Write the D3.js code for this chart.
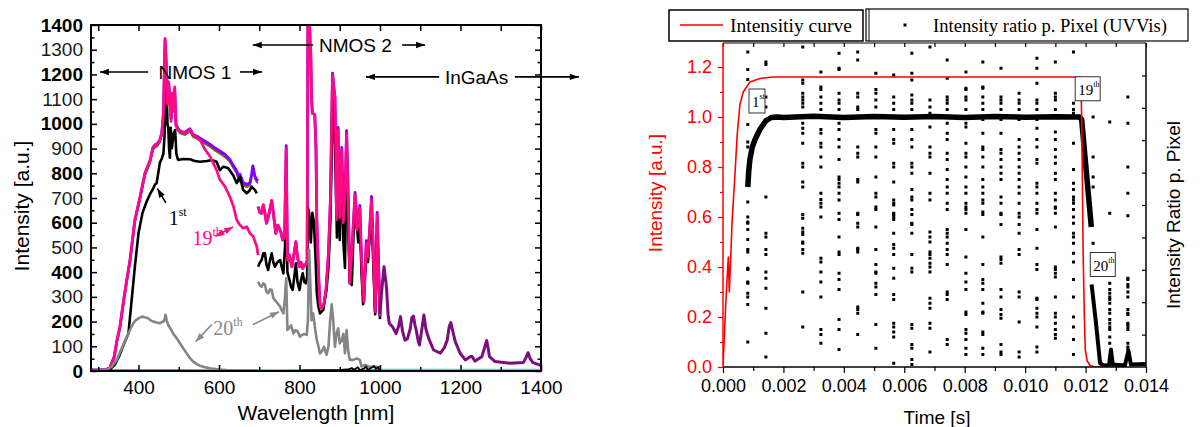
<!DOCTYPE html>
<html>
<head>
<meta charset="utf-8">
<script src="https://cdn.jsdelivr.net/npm/d3@7"></script>
<style>
  body { margin: 0; background: #fff; }
  svg { display: block; }
</style>
</head>
<body>
<svg id="chart" width="1200" height="427"></svg>
<script>
// ---------- left panel: spectra (wavelength nm, intensity a.u.) ----------
const wlMajorTicks = [400, 600, 800, 1000, 1200, 1400];
const wlMinorTicks = [300, 500, 700, 900, 1100, 1300];
const intensityTicks = d3.range(0, 1401, 100);

// envelope of most spectra, NMOS 1 detector
const upperNmos1 = [[282,4],[300,4],[320,6],[329,14],[340,60],[346,120],[354,180],[362,274],[370,360],[379,449],[391,611],[404,705],[416,800],[429,854],[436,905],[441,915],[447,920],[453,935],[458,965],[462,1044],[466,1340],[469,1240],[472,1090],[475,1165],[478,1100],[481,1020],[484,1120],[487,1060],[490,1140],[493,1000],[497,985],[503,972],[515,965],[528,980],[535,958],[545,950],[553,942],[565,930],[578,917],[590,902],[602,890],[615,876],[627,856],[636,830],[644,810],[650,776],[652,796],[660,762],[669,755],[677,762],[681,795],[684,830],[689,790],[693,776],[697,770]];
// envelope, NMOS 2 detector
const upperNmos2 = [[697,665],[702,640],[706,638],[710,672],[714,640],[718,598],[722,620],[727,658],[731,690],[735,640],[741,557],[746,590],[750,577],[754,560],[758,530],[763,545],[767,912],[770,449],[775,470],[781,422],[786,470],[791,523],[795,460],[800,422],[804,440],[808,415],[812,430],[816,429],[819,445],[821,1480],[824,1480],[826,1340],[828,1286],[830,1100],[832,1043],[835,1040],[838,1036],[841,900],[843,611],[847,400],[851,260],[856,255],[861,274],[866,330],[872,476],[877,700],[882,1205],[885,1150],[888,1110],[890,900],[892,611],[896,985],[900,620],[905,905],[909,600],[913,700],[917,972],[921,700],[925,355],[929,450],[934,600],[938,722],[941,650],[943,571],[946,600],[950,670],[953,500],[957,330],[960,280],[963,400],[966,527],[970,463],[974,560],[979,706],[983,500],[988,240],[990,350],[993,642],[996,450],[1000,220]];

const pink19Nmos1 = [[282,3],[300,3],[320,5],[329,13],[340,58],[346,118],[354,178],[362,272],[370,358],[379,447],[391,609],[404,703],[416,798],[429,852],[436,903],[441,913],[447,918],[453,933],[458,963],[462,1042],[466,1346],[469,1245],[472,1080],[475,1170],[478,1098],[481,1010],[484,1125],[487,1055],[490,1150],[493,995],[497,980],[503,968],[515,962],[528,976],[535,955],[545,946],[553,935],[565,897],[578,867],[586,840],[594,813],[602,775],[615,746],[627,705],[636,665],[644,611],[652,591],[660,577],[669,584],[677,557],[685,544],[694,503],[697,469]];
const pink19Nmos2 = [[697,665],[702,640],[706,638],[710,672],[714,640],[718,598],[722,620],[727,658],[731,690],[735,640],[741,557],[746,590],[750,577],[754,560],[758,530],[763,545],[767,901],[770,449],[775,470],[781,422],[786,470],[791,523],[795,460],[800,422],[804,440],[808,415],[812,430],[816,429],[819,445],[821,1480],[824,1480],[826,1340],[828,1286],[830,1100],[832,1043],[835,1040],[838,1036],[841,900],[843,611],[847,400],[851,260],[856,255],[861,274],[866,330],[872,476],[877,700],[882,1198],[885,1150],[888,1110],[890,900],[892,611],[896,975],[900,620],[905,894],[909,600],[913,700],[917,962],[921,700],[925,355],[929,450],[934,600],[938,712],[941,650],[943,571],[946,600],[950,658],[953,500],[957,330],[960,280],[963,400],[966,517],[970,463],[974,560],[979,692],[983,500],[988,240],[990,350],[993,631],[996,450],[1000,220]];

const black1Nmos1 = [[282,2],[320,2],[330,8],[341,25],[352,60],[361,98],[368,125],[375,152],[383,287],[391,422],[400,557],[410,640],[420,685],[430,720],[437,740],[441,755],[445,760],[449,800],[453,842],[458,860],[462,881],[465,960],[467,1097],[470,1137],[472,1000],[474,984],[476,900],[478,863],[480,984],[483,902],[487,960],[491,975],[494,880],[497,860],[499,854],[510,858],[528,857],[540,850],[553,847],[570,850],[582,854],[594,847],[602,813],[611,827],[623,820],[636,790],[644,760],[652,787],[660,733],[669,719],[675,728],[681,746],[689,733],[694,719]];
const black1Nmos2 = [[697,422],[702,440],[706,449],[710,476],[714,476],[718,430],[722,409],[727,450],[731,476],[735,440],[739,422],[745,440],[752,449],[756,420],[760,395],[764,500],[767,700],[770,400],[775,368],[779,340],[783,328],[787,380],[791,436],[795,360],[800,328],[804,370],[808,395],[812,360],[816,355],[819,380],[821,660],[824,640],[828,520],[832,640],[836,600],[840,450],[843,315],[847,260],[851,233],[855,240],[859,247],[863,290],[867,328],[872,420],[877,620],[882,1100],[886,1000],[890,800],[893,540],[896,900],[900,530],[905,830],[909,520],[913,417],[917,900],[921,600],[925,360],[930,348],[934,550],[938,660],[942,600],[946,520],[950,610],[954,400],[958,270],[962,380],[966,480],[970,440],[974,540],[979,650],[983,450],[988,230],[993,600],[996,420],[1000,210]];

const grey20Nmos1 = [[290,2],[310,2],[320,4],[335,20],[346,45],[358,90],[371,139],[380,170],[387,193],[393,205],[400,213],[406,218],[412,220],[418,216],[424,213],[430,205],[437,200],[445,196],[453,193],[458,198],[462,200],[465,210],[467,227],[470,205],[474,186],[480,170],[486,152],[495,132],[503,112],[511,92],[520,71],[528,52],[536,38],[545,28],[553,21],[565,15],[578,11],[600,6],[619,4],[650,3],[697,2]];
const grey20Nmos2 = [[697,361],[702,345],[706,341],[710,355],[714,349],[718,321],[722,314],[727,330],[731,328],[735,295],[739,287],[745,275],[752,260],[756,245],[760,233],[764,300],[767,375],[770,166],[775,175],[779,185],[785,152],[790,165],[796,159],[801,139],[806,146],[812,150],[818,146],[821,206],[824,490],[827,350],[830,206],[834,233],[838,180],[843,125],[847,100],[851,71],[856,80],[861,98],[867,65],[872,100],[876,200],[880,270],[884,200],[888,98],[892,150],[896,173],[900,112],[905,125],[909,150],[913,72],[917,166],[921,80],[925,45],[934,45],[942,51],[950,45],[954,18],[963,25],[975,16],[984,18],[1000,14]];

const baselineNmos = [[282,6],[320,4],[700,2],[1000,3]];
const noiseNmos2 = [[800,2],[850,3],[900,4],[920,6],[930,12],[935,5],[945,15],[950,4],[960,10],[965,18],[970,5],[980,14],[985,20],[990,8],[995,16],[1000,3]];
const ingaasLow = [[1000,4],[1400,4]];
const ingaas = [[1000,230],[1004,320],[1010,422],[1016,341],[1020,230],[1023,193],[1031,179],[1040,152],[1046,180],[1051,220],[1056,160],[1062,125],[1068,130],[1075,170],[1079,215],[1083,222],[1087,185],[1090,166],[1095,120],[1098,105],[1104,170],[1109,227],[1114,170],[1121,132],[1133,85],[1150,72],[1160,95],[1167,125],[1172,180],[1176,196],[1181,160],[1187,119],[1199,72],[1212,45],[1224,58],[1228,60],[1236,40],[1253,58],[1260,95],[1265,123],[1269,90],[1272,58],[1286,38],[1323,31],[1356,34],[1363,55],[1368,74],[1373,50],[1380,34],[1398,24],[1400,22]];

// ---------- right panel: time series ----------
const timeMajorTicks = [0, 0.002, 0.004, 0.006, 0.008, 0.010, 0.012, 0.014];
const timeMinorTicks = [0.001, 0.003, 0.005, 0.007, 0.009, 0.011, 0.013];
const redMajorTicks = [0, 0.2, 0.4, 0.6, 0.8, 1.0, 1.2];
const redMinorTicks = [0.1, 0.3, 0.5, 0.7, 0.9, 1.1];
const ratioTicks = [0.2, 0.4, 0.6, 0.8, 1.0, 1.2, 1.4, 1.6, 1.8];

const intensityCurve = [[0,0],[0.00009,0.25],[0.000176,0.44],[0.00021,0.30],[0.0003,0.58],[0.0004,0.78],[0.00047,0.93],[0.00056,1.05],[0.00067,1.10],[0.00089,1.14],[0.00122,1.154],[0.00166,1.16],[0.01185,1.16],[0.01188,0.9],[0.01192,0.45],[0.01196,0.2],[0.01199,0.07],[0.01205,0.025],[0.01215,0.006],[0.0123,0],[0.0129,0]];

const ratioBand = [[0.00082,0.72],[0.00085,0.78],[0.00089,0.83],[0.00097,0.88],[0.00106,0.91],[0.00122,0.95],[0.00142,0.985],[0.0016,0.998],[0.0018,1.0],[0.002,0.998],[0.0024,1.0],[0.003,1.003],[0.004,0.998],[0.005,1.002],[0.006,0.999],[0.007,1.002],[0.008,0.998],[0.009,1.002],[0.010,0.999],[0.011,1.001],[0.0118,1.0],[0.01187,0.99],[0.01219,0.56]];
const ratioBand20 = [[0.0122,0.33],[0.01235,0.17],[0.01248,0.015],[0.0126,0.006],[0.01278,0.008],[0.01284,0.07],[0.0129,0.01],[0.0133,0.006],[0.01342,0.065],[0.0135,0.01],[0.014,0.012]];

const ratioColTimes = [0.00082,0.00142,0.00264,0.00324,0.00384,0.00446,0.00506,0.00565,0.00625,0.00685,0.00742,0.00804,0.0086,0.0092,0.0098,0.01039,0.011,0.0116,0.01225,0.0128,0.0134];
const ratioColValues = [
  [1.26,1.19,1.15,0.97,0.90,0.88,0.66,0.60,0.58,0.575,0.55,0.51,0.47,0.46,0.395,0.39,0.34,0.335,0.295,0.28,0.25,0.10],
  [1.22,1.21,1.08,1.04,0.99,0.68,0.535,0.52,0.47,0.45,0.38,0.355,0.315,0.235,0.135,0.04],
  [1.28,1.148,1.135,1.095,1.08,1.068,1.055,1.04,0.975,0.955,0.935,0.895,0.815,0.80,0.74,0.72,0.61,0.595,0.555,0.54,0.53,0.50,0.495,0.47,0.455,0.30,0.16],
  [1.18,1.12,1.11,1.08,1.055,1.03,0.95,0.935,0.895,0.88,0.84,0.80,0.695,0.67,0.655,0.60,0.64,0.435,0.42,0.38,0.34,0.28,0.15,0.13,0.095],
  [1.255,1.195,1.19,1.095,1.068,1.055,1.03,0.975,0.95,0.91,0.88,0.83,0.76,0.75,0.735,0.72,0.695,0.668,0.615,0.59,0.52,0.46,0.45,0.375,0.35,0.31,0.19,0.15,0.07],
  [1.26,1.228,1.095,1.08,1.04,1.03,0.88,0.855,0.84,0.75,0.74,0.615,0.61,0.575,0.56,0.475,0.47,0.46,0.24,0.23,0.215,0.13],
  [1.175,1.11,1.095,1.068,1.04,0.95,0.935,0.88,0.84,0.76,0.695,0.68,0.64,0.63,0.56,0.47,0.41,0.38,0.375,0.335,0.32,0.29,0.17,0.075],
  [1.168,1.08,1.055,1.03,0.95,0.91,0.895,0.815,0.80,0.74,0.668,0.648,0.615,0.655,0.61,0.60,0.59,0.535,0.49,0.475,0.45,0.395,0.355,0.29,0.27,0.175,0.16,0.14,0.12,0.015],
  [1.255,1.175,1.148,1.088,1.068,1.055,1.03,0.95,0.91,0.88,0.815,0.80,0.775,0.71,0.68,0.63,0.668,0.61,0.575,0.57,0.535,0.45,0.395,0.38,0.17,0.155,0.09,0.075,0.03,0.01],
  [1.28,1.068,1.04,1.015,0.96,0.88,0.855,0.84,0.775,0.695,0.668,0.54,0.52,0.50,0.46,0.45,0.435,0.415,0.40,0.38,0.275,0.255,0.235,0.175,0.155,0.06],
  [1.228,1.155,1.08,1.068,1.055,1.03,0.975,0.935,0.91,0.855,0.83,0.79,0.75,0.72,0.695,0.655,0.63,0.55,0.535,0.52,0.495,0.47,0.45,0.41,0.30,0.29,0.27,0.11,0.09],
  [1.18,1.115,1.11,1.08,1.068,1.03,0.975,0.96,0.895,0.855,0.84,0.80,0.76,0.72,0.695,0.655,0.64,0.63,0.615,0.55,0.44,0.375,0.34,0.31,0.22,0.21,0.15,0.135,0.11,0.075,0.05],
  [1.22,1.12,1.115,1.08,1.055,1.03,0.99,0.935,0.88,0.87,0.84,0.80,0.75,0.72,0.695,0.668,0.655,0.62,0.61,0.52,0.41,0.35,0.335,0.31,0.255,0.22,0.215,0.14,0.13,0.075,0.05],
  [1.195,1.08,1.068,1.055,1.03,0.99,0.935,0.87,0.855,0.83,0.80,0.775,0.75,0.68,0.655,0.615,0.61,0.57,0.44,0.43,0.415,0.31,0.28,0.23,0.21,0.195,0.09,0.06,0.05],
  [1.095,1.068,1.055,1.03,0.99,0.91,0.88,0.855,0.83,0.80,0.775,0.75,0.72,0.695,0.655,0.615,0.60,0.57,0.535,0.47,0.45,0.30,0.28,0.18,0.06,0.04],
  [1.235,1.195,1.135,1.068,1.055,1.03,0.99,0.955,0.91,0.88,0.83,0.815,0.735,0.72,0.695,0.655,0.63,0.615,0.55,0.475,0.41,0.39,0.275,0.27,0.235,0.215,0.20,0.16,0.08,0.06],
  [1.22,1.095,1.08,1.068,1.03,0.94,0.91,0.87,0.84,0.815,0.775,0.75,0.695,0.668,0.615,0.64,0.635,0.56,0.40,0.39,0.375,0.36,0.28,0.215,0.20,0.175,0.15,0.13,0.115],
  [1.26,1.055,1.03,1.015,0.895,0.79,0.735,0.71,0.68,0.655,0.63,0.668,0.60,0.575,0.535,0.52,0.495,0.455,0.42,0.35,0.28,0.20,0.16,0.11,0.05],
  [1.0,0.84,0.76,0.72,0.495],
  [0.98,0.615,0.335,0.31,0.295,0.28,0.27,0.255,0.23,0.215,0.19,0.175,0.16,0.15,0.12,0.095],
  [1.08,0.975,0.80,0.695,0.605,0.355,0.35,0.33,0.32,0.30,0.28,0.23,0.215,0.21,0.175,0.17,0.16,0.15,0.095,0.08,0.07]
];

(function() {
  const SANS = '"Liberation Sans", Arial, sans-serif';
  const SERIF = '"Liberation Serif", "Times New Roman", serif';
  const PINK = '#ff0a84';
  const svg = d3.select('#chart');

  function cleanAxis(g, color, width) {
    g.select('.domain').remove();
    g.selectAll('line').attr('stroke', color).attr('stroke-width', width);
    g.selectAll('text').attr('fill', color).attr('font-family', SANS);
  }

  function arrow(g, x1, y1, x2, y2, color, both) {
    g.append('line').attr('x1', x1).attr('y1', y1).attr('x2', x2).attr('y2', y2)
      .attr('stroke', color).attr('stroke-width', 1.6);
    const head = (tx, ty, fx, fy) => {
      const a = Math.atan2(ty - fy, tx - fx), L = 9, W = 3.2;
      const bx = tx - L * Math.cos(a), by = ty - L * Math.sin(a);
      const pts = [[tx, ty], [bx + W * Math.sin(a), by - W * Math.cos(a)], [bx - W * Math.sin(a), by + W * Math.cos(a)]];
      g.append('polygon').attr('points', pts.map(p => p.join(',')).join(' ')).attr('fill', color);
    };
    head(x2, y2, x1, y1);
    if (both) head(x1, y1, x2, y2);
  }

  // =============== LEFT PANEL ===============
  const xL = d3.scaleLinear().domain([282, 1400]).range([91, 541]);
  const yL = d3.scaleLinear().domain([0, 1400]).range([371, 25]);
  const left = svg.append('g');

  left.append('clipPath').attr('id', 'clipL').append('rect')
    .attr('x', 91).attr('y', 25).attr('width', 450).attr('height', 346);

  const lineL = d3.line().x(d => xL(d[0])).y(d => yL(d[1]));
  const plotL = left.append('g').attr('clip-path', 'url(#clipL)');
  const draw = (data, color, w, dy) => plotL.append('path').datum(data)
    .attr('d', lineL).attr('fill', 'none').attr('stroke', color)
    .attr('stroke-width', w).attr('stroke-linejoin', 'round')
    .attr('transform', dy ? `translate(0,${dy})` : null);

  draw(baselineNmos, '#2a8c8c', 2);
  draw(upperNmos1, '#1a9a3a', 1.6, 2.8);
  draw(upperNmos1, '#ff2020', 1.6, 1.8);
  draw(upperNmos1, '#7f00ff', 2.9);
  draw(upperNmos2, '#7f00ff', 2.9);
  draw(black1Nmos1, '#000', 2.6);
  draw(black1Nmos2, '#000', 2.6);
  draw(pink19Nmos1, PINK, 2.7);
  draw(pink19Nmos2, PINK, 2.7);
  draw(grey20Nmos1, '#858585', 2.6);
  draw(grey20Nmos2, '#858585', 2.6);
  draw(noiseNmos2, '#000', 1.8);
  draw(ingaasLow, '#33d6e6', 2.6);
  draw(ingaas, '#7b0d7e', 3);

  // axes
  const intFmt = d3.format('d');
  const gl = left.append('g').attr('transform', 'translate(91,0)')
    .call(d3.axisLeft(yL).tickValues(intensityTicks).tickSize(-6).tickPadding(8).tickFormat(intFmt));
  cleanAxis(gl, '#000', 1.5);
  gl.selectAll('text').attr('font-size', 19)
    .attr('font-weight', d => d % 200 === 0 ? 'bold' : 'normal')
    .attr('fill', d => d % 200 === 0 ? '#000' : '#1a1a1a');
  cleanAxis(left.append('g').attr('transform', 'translate(91,0)')
    .call(d3.axisLeft(yL).tickValues(d3.range(50, 1400, 100)).tickSize(-3.5).tickFormat('')), '#000', 1.5);
  cleanAxis(left.append('g').attr('transform', 'translate(541,0)')
    .call(d3.axisRight(yL).tickValues(intensityTicks).tickSize(-6).tickFormat('')), '#000', 1.5);
  cleanAxis(left.append('g').attr('transform', 'translate(541,0)')
    .call(d3.axisRight(yL).tickValues(d3.range(50, 1400, 100)).tickSize(-3.5).tickFormat('')), '#000', 1.5);

  const gb = left.append('g').attr('transform', 'translate(0,371)')
    .call(d3.axisBottom(xL).tickValues(wlMajorTicks).tickSize(-6).tickPadding(10).tickFormat(intFmt));
  cleanAxis(gb, '#000', 1.5);
  gb.selectAll('text').attr('font-size', 19);
  cleanAxis(left.append('g').attr('transform', 'translate(0,371)')
    .call(d3.axisBottom(xL).tickValues(wlMinorTicks).tickSize(-4).tickFormat('')), '#000', 1.5);
  cleanAxis(left.append('g').attr('transform', 'translate(0,25)')
    .call(d3.axisTop(xL).tickValues(d3.range(300, 1401, 100)).tickSize(-6).tickFormat('')), '#000', 1.5);

  left.append('rect').attr('x', 91).attr('y', 25).attr('width', 450).attr('height', 346)
    .attr('fill', 'none').attr('stroke', '#000').attr('stroke-width', 2);

  left.append('text').attr('transform', 'translate(29,206) rotate(-90)')
    .attr('text-anchor', 'middle').attr('font-family', SANS).attr('font-size', 21)
    .text('Intensity [a.u.]');
  left.append('text').attr('x', 316).attr('y', 420).attr('text-anchor', 'middle')
    .attr('font-family', SANS).attr('font-size', 21).text('Wavelength [nm]');

  // detector ranges
  const ann = left.append('g');
  const label = (text, nm, v) => ann.append('text').attr('x', xL(nm)).attr('y', yL(v))
    .attr('dy', '0.36em').attr('text-anchor', 'middle').attr('font-family', SANS)
    .attr('font-size', 19).text(text);
  label('NMOS 1', 540, 1210);
  arrow(ann, xL(424), yL(1210), xL(304), yL(1210), '#000');
  arrow(ann, xL(652), yL(1210), xL(707), yL(1210), '#000');
  label('NMOS 2', 939, 1319);
  arrow(ann, xL(834), yL(1319), xL(684), yL(1319), '#000');
  arrow(ann, xL(1055), yL(1319), xL(1112), yL(1319), '#000');
  label('InGaAs', 1240, 1190);
  arrow(ann, xL(1147), yL(1190), xL(965), yL(1190), '#000');
  arrow(ann, xL(1335), yL(1190), xL(1494), yL(1190), '#000');

  // run labels
  const runLabel = (num, sup, nm, v, color) => {
    const t = ann.append('text').attr('x', xL(nm)).attr('y', yL(v))
      .attr('font-family', SERIF).attr('font-size', 20).attr('fill', color);
    t.append('tspan').text(num);
    t.append('tspan').attr('font-size', 12).attr('dy', -9).text(sup);
  };
  runLabel('1', 'st', 475, 592, '#000');
  arrow(ann, xL(468), yL(680), xL(447), yL(738), '#000');
  runLabel('19', 'th', 534, 510, PINK);
  arrow(ann, xL(591), yL(545), xL(635), yL(583), PINK, true);
  runLabel('20', 'th', 586, 145, '#888');
  arrow(ann, xL(582), yL(188), xL(542), yL(118), '#888');
  arrow(ann, xL(684), yL(187), xL(749), yL(240), '#888');

  // =============== RIGHT PANEL ===============
  const xR = d3.scaleLinear().domain([0, 0.014]).range([723, 1146]);
  const yR = d3.scaleLinear().domain([0, 1.3]).range([367, 42]);
  const yRatio = d3.scaleLinear().domain([0, 2]).range([367, 43]);
  const right = svg.append('g');

  right.append('clipPath').attr('id', 'clipR').append('rect')
    .attr('x', 723).attr('y', 43).attr('width', 423).attr('height', 324);
  const plotR = right.append('g').attr('clip-path', 'url(#clipR)');
  const lineR = d3.line().x(d => xR(d[0])).y(d => yR(d[1]));

  const dots = [];
  ratioColTimes.forEach((t, i) => ratioColValues[i].forEach(v => dots.push([t, v])));
  plotR.selectAll('rect.dot').data(dots).enter().append('rect')
    .attr('class', 'dot')
    .attr('x', d => xR(d[0]) - 1.5).attr('y', d => yR(d[1]) - 1.5)
    .attr('width', 3).attr('height', 3).attr('fill', '#000');

  plotR.append('path').datum(ratioBand).attr('d', lineR).attr('fill', 'none')
    .attr('stroke', '#000').attr('stroke-width', 5.5).attr('stroke-linejoin', 'round');
  plotR.append('path').datum(ratioBand20).attr('d', lineR).attr('fill', 'none')
    .attr('stroke', '#000').attr('stroke-width', 4).attr('stroke-linejoin', 'round');
  plotR.append('path').datum(intensityCurve).attr('d', lineR).attr('fill', 'none')
    .attr('stroke', '#ff0000').attr('stroke-width', 1.6).attr('stroke-linejoin', 'round');

  // axes
  const rb = right.append('g').attr('transform', 'translate(0,367)')
    .call(d3.axisBottom(xR).tickValues(timeMajorTicks).tickSize(6).tickPadding(6).tickFormat(d3.format('.3f')));
  cleanAxis(rb, '#000', 1.2);
  rb.selectAll('text').attr('font-size', 18);
  cleanAxis(right.append('g').attr('transform', 'translate(0,367)')
    .call(d3.axisBottom(xR).tickValues(timeMinorTicks).tickSize(4).tickFormat('')), '#000', 1.2);
  cleanAxis(right.append('g').attr('transform', 'translate(0,43)')
    .call(d3.axisTop(xR).tickValues(timeMajorTicks.concat(timeMinorTicks)).tickSize(-4).tickFormat('')), '#000', 1.2);

  const rl = right.append('g').attr('transform', 'translate(723,0)')
    .call(d3.axisLeft(yR).tickValues(redMajorTicks).tickSize(5).tickPadding(6).tickFormat(d3.format('.1f')));
  cleanAxis(rl, '#ff0000', 1.2);
  rl.selectAll('text').attr('font-size', 18);
  cleanAxis(right.append('g').attr('transform', 'translate(723,0)')
    .call(d3.axisLeft(yR).tickValues(redMinorTicks).tickSize(3).tickFormat('')), '#ff0000', 1.2);
  cleanAxis(right.append('g').attr('transform', 'translate(1146,0)')
    .call(d3.axisRight(yRatio).tickValues(ratioTicks).tickSize(-4).tickFormat('')), '#000', 1.2);

  right.append('line').attr('x1', 723).attr('x2', 1146).attr('y1', 43).attr('y2', 43)
    .attr('stroke', '#000').attr('stroke-width', 1.2);
  right.append('line').attr('x1', 723).attr('x2', 1146).attr('y1', 367).attr('y2', 367)
    .attr('stroke', '#000').attr('stroke-width', 1.5);
  right.append('line').attr('x1', 1146).attr('x2', 1146).attr('y1', 43).attr('y2', 367)
    .attr('stroke', '#000').attr('stroke-width', 1.5);
  right.append('line').attr('x1', 723).attr('x2', 723).attr('y1', 43).attr('y2', 367)
    .attr('stroke', '#ff0000').attr('stroke-width', 1.5);

  right.append('text').attr('transform', 'translate(662,193) rotate(-90)')
    .attr('text-anchor', 'middle').attr('font-family', SANS).attr('font-size', 19)
    .attr('fill', '#ff0000').text('Intensity [a.u.]');
  right.append('text').attr('transform', 'translate(1180,215) rotate(-90)')
    .attr('text-anchor', 'middle').attr('font-family', SANS).attr('font-size', 19)
    .text('Intensity Ratio p. Pixel');
  right.append('text').attr('x', 937).attr('y', 424).attr('text-anchor', 'middle')
    .attr('font-family', SANS).attr('font-size', 19).text('Time [s]');

  // legend
  const lg = right.append('g');
  lg.append('rect').attr('x', 669).attr('y', 10).attr('width', 194).attr('height', 31)
    .attr('fill', '#fff').attr('stroke', '#000').attr('stroke-width', 1.5);
  lg.append('line').attr('x1', 680).attr('x2', 723).attr('y1', 25).attr('y2', 25)
    .attr('stroke', '#ff0000').attr('stroke-width', 1.6);
  lg.append('text').attr('x', 730).attr('y', 32).attr('font-family', SERIF)
    .attr('font-size', 19.5).text('Intensitiy curve');
  lg.append('rect').attr('x', 866).attr('y', 9).attr('width', 322).attr('height', 32)
    .attr('fill', '#fff').attr('stroke', '#000').attr('stroke-width', 1.2);
  lg.append('line').attr('x1', 869).attr('x2', 869).attr('y1', 9).attr('y2', 41)
    .attr('stroke', '#000').attr('stroke-width', 1);
  lg.append('rect').attr('x', 903.5).attr('y', 23.5).attr('width', 3).attr('height', 3).attr('fill', '#000');
  lg.append('text').attr('x', 933).attr('y', 32).attr('font-family', SERIF)
    .attr('font-size', 18.6).text('Intensity ratio p. Pixel (UVVis)');

  // cycle labels
  const boxLabel = (num, sup, t, v, w) => {
    const cx = xR(t), cy = yR(v);
    right.append('rect').attr('x', cx - w / 2).attr('y', cy - 12).attr('width', w).attr('height', 24)
      .attr('fill', '#fff').attr('stroke', '#333').attr('stroke-width', 1);
    const tx = right.append('text').attr('x', cx - w / 2 + 3).attr('y', cy + 6)
      .attr('font-family', SERIF).attr('font-size', 15);
    tx.append('tspan').text(num);
    tx.append('tspan').attr('font-size', 8).attr('dy', -8).text(sup);
  };
  boxLabel('1', 'st', 0.001125, 1.064, 16);
  boxLabel('19', 'th', 0.01207, 1.113, 25);
  boxLabel('20', 'th', 0.01257, 0.41, 25);
})();
</script>
</body>
</html>
